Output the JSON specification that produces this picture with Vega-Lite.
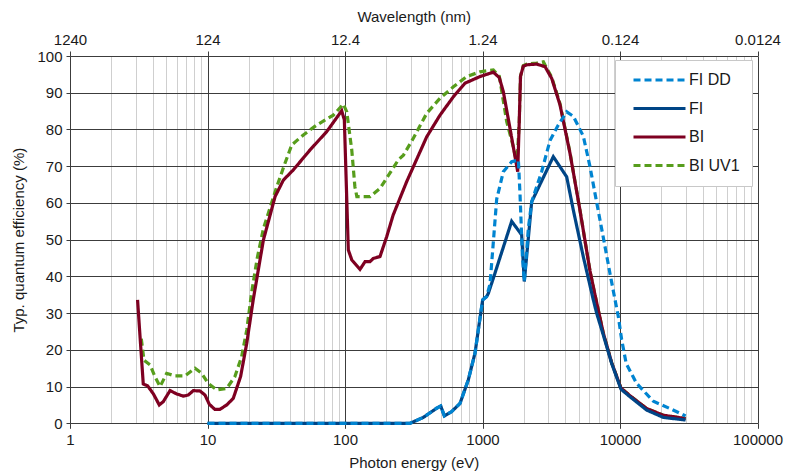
{
  "$schema": "https://vega.github.io/schema/vega-lite/v6.json",
  "width": 687.5,
  "height": 367.3,
  "autosize": {"type": "none"},
  "padding": {"left": 70, "top": 56, "right": 27.5, "bottom": 49.7},
  "background": "white",
  "config": {
    "view": {"stroke": null},
    "font": "Liberation Sans",
    "axis": {
      "labelFont": "Liberation Sans",
      "labelFontSize": 15,
      "labelColor": "#1a1a1a",
      "titleFont": "Liberation Sans",
      "titleFontSize": 15,
      "titleFontWeight": "normal",
      "titleColor": "#1a1a1a",
      "tickColor": "#3c3c3c",
      "gridColor": "#3c3c3c",
      "domain": false,
      "labelFlush": false,
      "labelOverlap": false
    },
    "legend": {
      "labelFont": "Liberation Sans",
      "labelFontSize": 16,
      "labelColor": "#1a1a1a",
      "fillColor": "white",
      "strokeColor": "#c8c8c8",
      "padding": 12,
      "rowPadding": 12.5,
      "symbolType": "M-5.2,0H5.2",
      "symbolSize": 100,
      "symbolOffset": 24.5,
      "symbolStrokeWidth": 3,
      "labelOffset": 21.5,
      "orient": "none",
      "legendX": 545,
      "legendY": 4
    }
  },
  "data": {
    "values": [
      {"s": "BI UV1", "e": 3.3, "q": 23}, {"s": "BI UV1", "e": 3.45, "q": 17.2}, {"s": "BI UV1", "e": 3.82, "q": 15.9}, {"s": "BI UV1", "e": 4.15, "q": 12.7}, {"s": "BI UV1", "e": 4.52, "q": 10}, {"s": "BI UV1", "e": 5.05, "q": 13.6}, {"s": "BI UV1", "e": 5.8, "q": 12.9}, {"s": "BI UV1", "e": 6.86, "q": 12.9}, {"s": "BI UV1", "e": 8.11, "q": 15}, {"s": "BI UV1", "e": 9.07, "q": 13.6}, {"s": "BI UV1", "e": 10.1, "q": 10.9}, {"s": "BI UV1", "e": 11.7, "q": 9.1}, {"s": "BI UV1", "e": 13.8, "q": 9.5}, {"s": "BI UV1", "e": 15.8, "q": 12.7}, {"s": "BI UV1", "e": 17.7, "q": 18.1}, {"s": "BI UV1", "e": 19.3, "q": 25.4}, {"s": "BI UV1", "e": 20.9, "q": 35.4}, {"s": "BI UV1", "e": 23, "q": 45}, {"s": "BI UV1", "e": 25.5, "q": 53}, {"s": "BI UV1", "e": 31.9, "q": 64.4}, {"s": "BI UV1", "e": 36.6, "q": 70.8}, {"s": "BI UV1", "e": 41, "q": 75.8}, {"s": "BI UV1", "e": 49.8, "q": 78.5}, {"s": "BI UV1", "e": 62.2, "q": 81.2}, {"s": "BI UV1", "e": 82.2, "q": 83.9}, {"s": "BI UV1", "e": 97.2, "q": 86.9}, {"s": "BI UV1", "e": 103, "q": 84.8}, {"s": "BI UV1", "e": 112, "q": 74.4}, {"s": "BI UV1", "e": 118, "q": 64.4}, {"s": "BI UV1", "e": 122, "q": 61.7}, {"s": "BI UV1", "e": 152, "q": 61.7}, {"s": "BI UV1", "e": 180, "q": 64}, {"s": "BI UV1", "e": 212, "q": 68.1}, {"s": "BI UV1", "e": 244, "q": 71.7}, {"s": "BI UV1", "e": 266, "q": 73}, {"s": "BI UV1", "e": 314, "q": 77.6}, {"s": "BI UV1", "e": 393, "q": 84.4}, {"s": "BI UV1", "e": 491, "q": 88.5}, {"s": "BI UV1", "e": 614, "q": 91.6}, {"s": "BI UV1", "e": 767, "q": 94.4}, {"s": "BI UV1", "e": 959, "q": 95.7}, {"s": "BI UV1", "e": 1199, "q": 96.2}, {"s": "BI UV1", "e": 1325, "q": 94.5}, {"s": "BI UV1", "e": 1500, "q": 82.1}, {"s": "BI UV1", "e": 1675, "q": 75.3}, {"s": "BI UV1", "e": 1780, "q": 70.5}, {"s": "BI UV1", "e": 1850, "q": 82}, {"s": "BI UV1", "e": 1890, "q": 94.5}, {"s": "BI UV1", "e": 1980, "q": 97.4}, {"s": "BI UV1", "e": 2096, "q": 97.8}, {"s": "BI UV1", "e": 2477, "q": 98.1}, {"s": "BI UV1", "e": 2773, "q": 98.4}, {"s": "BI UV1", "e": 3187, "q": 94.2}, {"s": "BI UV1", "e": 3662, "q": 87}, {"s": "BI UV1", "e": 4329, "q": 73.7}, {"s": "BI UV1", "e": 5116, "q": 58}, {"s": "BI UV1", "e": 6049, "q": 41.5}, {"s": "BI UV1", "e": 6577, "q": 35}, {"s": "BI UV1", "e": 7566, "q": 24.5}, {"s": "BI UV1", "e": 8697, "q": 16.5}, {"s": "BI UV1", "e": 10160, "q": 9.6}, {"s": "BI UV1", "e": 11830, "q": 7.5}, {"s": "BI UV1", "e": 15640, "q": 4}, {"s": "BI UV1", "e": 20650, "q": 2.2}, {"s": "BI UV1", "e": 30000, "q": 1.3},

      {"s": "BI", "e": 3.1, "q": 33.6}, {"s": "BI", "e": 3.41, "q": 10.7}, {"s": "BI", "e": 3.67, "q": 10.2}, {"s": "BI", "e": 4.04, "q": 8}, {"s": "BI", "e": 4.46, "q": 5}, {"s": "BI", "e": 4.77, "q": 5.9}, {"s": "BI", "e": 5.34, "q": 8.9}, {"s": "BI", "e": 5.97, "q": 8}, {"s": "BI", "e": 6.67, "q": 7.4}, {"s": "BI", "e": 7.25, "q": 7.7}, {"s": "BI", "e": 7.88, "q": 8.9}, {"s": "BI", "e": 8.82, "q": 8.8}, {"s": "BI", "e": 9.59, "q": 7.7}, {"s": "BI", "e": 10.3, "q": 5.2}, {"s": "BI", "e": 11.3, "q": 3.8}, {"s": "BI", "e": 12.3, "q": 3.8}, {"s": "BI", "e": 13.8, "q": 5}, {"s": "BI", "e": 15.4, "q": 6.8}, {"s": "BI", "e": 17.4, "q": 12.7}, {"s": "BI", "e": 19.3, "q": 21.8}, {"s": "BI", "e": 21.5, "q": 33.6}, {"s": "BI", "e": 25.5, "q": 49.9}, {"s": "BI", "e": 31, "q": 61.7}, {"s": "BI", "e": 35.6, "q": 66.2}, {"s": "BI", "e": 42.1, "q": 69}, {"s": "BI", "e": 55.6, "q": 74.4}, {"s": "BI", "e": 73.6, "q": 79.4}, {"s": "BI", "e": 94.6, "q": 85.1}, {"s": "BI", "e": 98.9, "q": 82.6}, {"s": "BI", "e": 105.7, "q": 47.2}, {"s": "BI", "e": 112, "q": 44.5}, {"s": "BI", "e": 128.5, "q": 41.9}, {"s": "BI", "e": 139.8, "q": 44}, {"s": "BI", "e": 152, "q": 44}, {"s": "BI", "e": 160.6, "q": 44.9}, {"s": "BI", "e": 179.7, "q": 45.4}, {"s": "BI", "e": 201, "q": 50.8}, {"s": "BI", "e": 224, "q": 56.7}, {"s": "BI", "e": 281, "q": 65.8}, {"s": "BI", "e": 393, "q": 78}, {"s": "BI", "e": 491, "q": 83.9}, {"s": "BI", "e": 614, "q": 88.9}, {"s": "BI", "e": 746, "q": 92.6}, {"s": "BI", "e": 959, "q": 94.4}, {"s": "BI", "e": 1199, "q": 95.6}, {"s": "BI", "e": 1325, "q": 94.1}, {"s": "BI", "e": 1417, "q": 90.3}, {"s": "BI", "e": 1585, "q": 80.3}, {"s": "BI", "e": 1803, "q": 68.5}, {"s": "BI", "e": 1850, "q": 82}, {"s": "BI", "e": 1890, "q": 94.5}, {"s": "BI", "e": 1980, "q": 97.2}, {"s": "BI", "e": 2096, "q": 97.6}, {"s": "BI", "e": 2477, "q": 97.8}, {"s": "BI", "e": 2849, "q": 97.1}, {"s": "BI", "e": 3187, "q": 93.9}, {"s": "BI", "e": 3662, "q": 86.7}, {"s": "BI", "e": 4329, "q": 73.5}, {"s": "BI", "e": 5116, "q": 58}, {"s": "BI", "e": 6049, "q": 41.5}, {"s": "BI", "e": 6577, "q": 35}, {"s": "BI", "e": 7566, "q": 24.5}, {"s": "BI", "e": 8697, "q": 16.5}, {"s": "BI", "e": 10160, "q": 9.6}, {"s": "BI", "e": 11830, "q": 7.5}, {"s": "BI", "e": 15640, "q": 4}, {"s": "BI", "e": 20650, "q": 2.2}, {"s": "BI", "e": 30000, "q": 1.3},

      {"s": "FI", "e": 10, "q": 0}, {"s": "FI", "e": 297, "q": 0}, {"s": "FI", "e": 371, "q": 1.6}, {"s": "FI", "e": 464, "q": 4.1}, {"s": "FI", "e": 497, "q": 4.7}, {"s": "FI", "e": 528, "q": 2}, {"s": "FI", "e": 597, "q": 3.2}, {"s": "FI", "e": 686, "q": 5.4}, {"s": "FI", "e": 788, "q": 11.8}, {"s": "FI", "e": 882, "q": 19.1}, {"s": "FI", "e": 947, "q": 27.2}, {"s": "FI", "e": 1003, "q": 33.6}, {"s": "FI", "e": 1072, "q": 34.5}, {"s": "FI", "e": 1103, "q": 35.4}, {"s": "FI", "e": 1199, "q": 39.5}, {"s": "FI", "e": 1630, "q": 55}, {"s": "FI", "e": 1927, "q": 51.3}, {"s": "FI", "e": 2014, "q": 38.6}, {"s": "FI", "e": 2279, "q": 60.3}, {"s": "FI", "e": 3273, "q": 72.6}, {"s": "FI", "e": 4095, "q": 67.1}, {"s": "FI", "e": 4573, "q": 58.1}, {"s": "FI", "e": 5406, "q": 45.4}, {"s": "FI", "e": 6397, "q": 33.6}, {"s": "FI", "e": 6761, "q": 30}, {"s": "FI", "e": 7566, "q": 24}, {"s": "FI", "e": 8697, "q": 16.3}, {"s": "FI", "e": 10160, "q": 9.3}, {"s": "FI", "e": 11830, "q": 7.2}, {"s": "FI", "e": 15640, "q": 3.6}, {"s": "FI", "e": 20650, "q": 1.6}, {"s": "FI", "e": 30000, "q": 0.9},

      {"s": "FI DD", "e": 10, "q": 0}, {"s": "FI DD", "e": 297, "q": 0}, {"s": "FI DD", "e": 371, "q": 1.6}, {"s": "FI DD", "e": 464, "q": 4.1}, {"s": "FI DD", "e": 497, "q": 4.7}, {"s": "FI DD", "e": 528, "q": 2}, {"s": "FI DD", "e": 597, "q": 3.2}, {"s": "FI DD", "e": 686, "q": 5.4}, {"s": "FI DD", "e": 788, "q": 11.8}, {"s": "FI DD", "e": 882, "q": 19.1}, {"s": "FI DD", "e": 947, "q": 27.2}, {"s": "FI DD", "e": 1003, "q": 33.6}, {"s": "FI DD", "e": 1072, "q": 34.5}, {"s": "FI DD", "e": 1135, "q": 38}, {"s": "FI DD", "e": 1268, "q": 61}, {"s": "FI DD", "e": 1417, "q": 68.5}, {"s": "FI DD", "e": 1630, "q": 71.2}, {"s": "FI DD", "e": 1824, "q": 71.7}, {"s": "FI DD", "e": 1875, "q": 62.2}, {"s": "FI DD", "e": 1950, "q": 45.8}, {"s": "FI DD", "e": 2014, "q": 38.6}, {"s": "FI DD", "e": 2155, "q": 53.1}, {"s": "FI DD", "e": 2279, "q": 60.3}, {"s": "FI DD", "e": 2692, "q": 68.5}, {"s": "FI DD", "e": 3098, "q": 77}, {"s": "FI DD", "e": 3556, "q": 81.2}, {"s": "FI DD", "e": 4095, "q": 84.8}, {"s": "FI DD", "e": 4573, "q": 83.6}, {"s": "FI DD", "e": 5406, "q": 78.2}, {"s": "FI DD", "e": 6049, "q": 69.9}, {"s": "FI DD", "e": 6577, "q": 62.6}, {"s": "FI DD", "e": 7158, "q": 55.3}, {"s": "FI DD", "e": 7781, "q": 48.1}, {"s": "FI DD", "e": 8454, "q": 40.8}, {"s": "FI DD", "e": 9204, "q": 33.6}, {"s": "FI DD", "e": 9727, "q": 29}, {"s": "FI DD", "e": 10280, "q": 22.8}, {"s": "FI DD", "e": 11090, "q": 16.3}, {"s": "FI DD", "e": 13190, "q": 10.9}, {"s": "FI DD", "e": 17480, "q": 6}, {"s": "FI DD", "e": 23100, "q": 4}, {"s": "FI DD", "e": 30000, "q": 2}
    ]
  },
  "encoding": {
    "y": {
      "field": "q",
      "type": "quantitative",
      "scale": {"domain": [0, 100], "nice": false},
      "axis": {
        "values": [0, 10, 20, 30, 40, 50, 60, 70, 80, 90, 100],
        "grid": true,
        "tickSize": 4,
        "labelPadding": 4,
        "title": "Typ. quantum efficiency (%)",
        "titlePadding": 10
      }
    },
    "color": {
      "field": "s",
      "type": "nominal",
      "scale": {"domain": ["FI DD", "FI", "BI", "BI UV1"], "range": ["#0084d1", "#004586", "#7e0021", "#579d1c"]},
      "legend": {"title": null}
    },
    "strokeDash": {
      "field": "s",
      "type": "nominal",
      "scale": {"domain": ["FI DD", "FI", "BI", "BI UV1"], "range": [[7, 4], [1, 0], [1, 0], [7, 4]]},
      "legend": {"title": null}
    }
  },
  "layer": [
    {
      "transform": [{"filter": "datum.s == 'BI UV1'"}],
      "mark": {"type": "line", "strokeWidth": 3.2},
      "encoding": {
        "x": {
          "field": "e",
          "type": "quantitative",
          "scale": {"type": "log", "domain": [1, 100000]},
          "axis": {
            "orient": "bottom",
            "values": [1, 2, 3, 4, 5, 6, 7, 8, 9, 10, 20, 30, 40, 50, 60, 70, 80, 90, 100, 200, 300, 400, 500, 600, 700, 800, 900, 1000, 2000, 3000, 4000, 5000, 6000, 7000, 8000, 9000, 10000, 20000, 30000, 40000, 50000, 60000, 70000, 80000, 90000, 100000],
            "format": "d",
            "labelExpr": "indexof([1,10,100,1000,10000,100000], datum.value) >= 0 ? datum.label : ''",
            "grid": true,
            "gridColor": {"condition": {"test": "indexof([1,10,100,1000,10000,100000], datum.value) >= 0", "value": "#3c3c3c"}, "value": "#cfcfcf"},
            "tickColor": {"condition": {"test": "indexof([1,10,100,1000,10000,100000], datum.value) >= 0", "value": "#3c3c3c"}, "value": "transparent"},
            "tickSize": 5,
            "labelPadding": 4,
            "title": "Photon energy (eV)",
            "titlePadding": 8
          }
        }
      }
    },
    {
      "transform": [{"filter": "datum.s == 'BI'"}],
      "mark": {"type": "line", "strokeWidth": 3.2},
      "encoding": {
        "x": {
          "field": "e",
          "type": "quantitative",
          "scale": {"type": "log", "domain": [1, 100000]},
          "axis": {
            "orient": "top",
            "values": [1, 10, 100, 1000, 10000, 100000],
            "labelExpr": "format(1240 / datum.value, '~g')",
            "grid": false,
            "tickSize": 5,
            "labelPadding": 4,
            "title": "Wavelength (nm)",
            "titlePadding": 8
          }
        }
      }
    },
    {
      "transform": [{"filter": "datum.s == 'FI'"}],
      "mark": {"type": "line", "strokeWidth": 3.2},
      "encoding": {
        "x": {"field": "e", "type": "quantitative", "scale": {"type": "log", "domain": [1, 100000]}, "axis": null}
      }
    },
    {
      "transform": [{"filter": "datum.s == 'FI DD'"}],
      "mark": {"type": "line", "strokeWidth": 3.2},
      "encoding": {
        "x": {"field": "e", "type": "quantitative", "scale": {"type": "log", "domain": [1, 100000]}, "axis": null}
      }
    }
  ],
  "resolve": {"axis": {"x": "independent"}}
}
